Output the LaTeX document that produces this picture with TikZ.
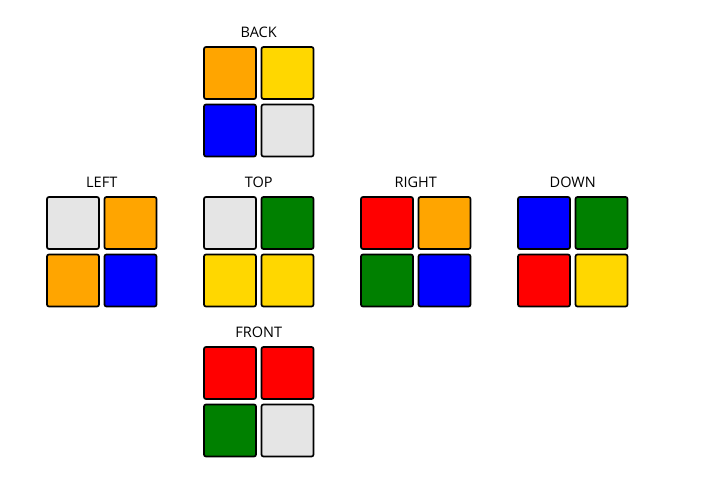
\documentclass[tikz,border=0pt]{standalone}
\usepackage{fontspec}
\setmainfont{Open Sans}
\definecolor{cOrange}{HTML}{FFA500}
\definecolor{cYellow}{HTML}{FFD700}
\definecolor{cBlue}{HTML}{0000FF}
\definecolor{cGray}{HTML}{E5E5E5}
\definecolor{cGreen}{HTML}{008000}
\definecolor{cRed}{HTML}{FF0000}
\newcommand\cubeface[8]{%
  \node[facelabel] (#1-label) at (#2+28.75,#3-41) {#4};
  \node[sticker, fill=#5] (#1-1) at (#2,#3) {};
  \node[sticker, fill=#6] (#1-2) at (#2+57.5,#3) {};
  \node[sticker, fill=#7] (#1-3) at (#2,#3+57.5) {};
  \node[sticker, fill=#8] (#1-4) at (#2+57.5,#3+57.5) {};
}
\begin{document}
\begin{tikzpicture}[x=1pt,y=-1pt,
  sticker/.style={draw=black, line width=1.7pt, rounded corners=2pt, minimum size=52pt, inner sep=0pt},
  facelabel/.style={font=\fontsize{14.5}{16}\selectfont, inner sep=0pt}]
\useasboundingbox[fill=white] (0,0) rectangle (712,494);
\cubeface{back}{230}{73}{BACK}{cOrange}{cYellow}{cBlue}{cGray}
\cubeface{left}{73}{223}{LEFT}{cGray}{cOrange}{cOrange}{cBlue}
\cubeface{top}{230}{223}{TOP}{cGray}{cGreen}{cYellow}{cYellow}
\cubeface{right}{387}{223}{RIGHT}{cRed}{cOrange}{cGreen}{cBlue}
\cubeface{down}{544}{223}{DOWN}{cBlue}{cGreen}{cRed}{cYellow}
\cubeface{front}{230}{373}{FRONT}{cRed}{cRed}{cGreen}{cGray}
\end{tikzpicture}
\end{document}
